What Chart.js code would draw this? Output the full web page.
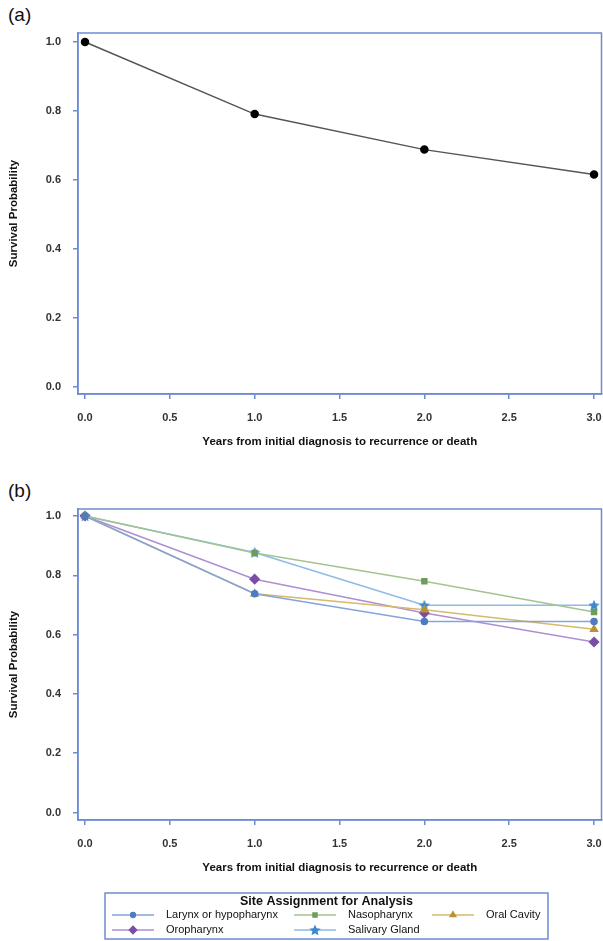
<!DOCTYPE html>
<html>
<head>
<meta charset="utf-8">
<script src="https://cdn.jsdelivr.net/npm/chart.js@4.4.1/dist/chart.umd.min.js"></script>
<style>
  html, body { margin: 0; padding: 0; background: #fff; }
  body { width: 603px; height: 941px; position: relative; overflow: hidden; font-family: 'Liberation Sans', Arial, sans-serif; }
  .panel-label { position: absolute; left: 8px; font-size: 19px; line-height: 22px; color: #111; }
  #wrapA { position: absolute; left: 0; top: 0; width: 603px; height: 470px; }
  #wrapB { position: absolute; left: 0; top: 470px; width: 603px; height: 471px; }
</style>
</head>
<body>
<div class="panel-label" style="top:4px">(a)</div>
<div class="panel-label" style="top:480px">(b)</div>
<div id="wrapA"><canvas id="chartA" width="603" height="470"></canvas></div>
<div id="wrapB"><canvas id="chartB" width="603" height="471"></canvas></div>
<script>
// data
const years = [0, 1, 2, 3];
const overallSurvival = [1.0, 0.791, 0.688, 0.616];

const larynxSurvival = [1.0, 0.738, 0.644, 0.644];
const nasopharynxSurvival = [1.0, 0.875, 0.780, 0.676];
const oralCavitySurvival = [1.0, 0.738, 0.684, 0.618];
const oropharynxSurvival = [1.0, 0.787, 0.673, 0.575];
const salivarySurvival = [1.0, 0.877, 0.699, 0.699];

const siteNames = ['Larynx or hypopharynx', 'Nasopharynx', 'Oral Cavity', 'Oropharynx', 'Salivary Gland'];
const legendTitle = 'Site Assignment for Analysis';
const xTitle = 'Years from initial diagnosis to recurrence or death';
const yTitle = 'Survival Probability';

// look
const frameColor = '#6d8bd3';
const tickColor = '#333';
const tickFont = { family: "'Liberation Sans', Arial, sans-serif", size: 11, weight: 'bold' };
const titleFont = { family: "'Liberation Sans', Arial, sans-serif", size: 11.5, weight: 'bold' };

function toPoints(values) {
  return years.map((yr, i) => ({ x: yr, y: values[i] }));
}

// filled five point star used as marker for salivary gland
function makeStar(color, size) {
  const c = document.createElement('canvas');
  c.width = size; c.height = size;
  const g = c.getContext('2d');
  const cx = size / 2, cy = size / 2 + 0.5, R = size / 2, r = R * 0.45;
  g.beginPath();
  for (let i = 0; i < 10; i++) {
    const rad = i % 2 === 0 ? R : r;
    const a = -Math.PI / 2 + i * Math.PI / 5;
    g.lineTo(cx + rad * Math.cos(a), cy + rad * Math.sin(a));
  }
  g.closePath();
  g.fillStyle = color;
  g.fill();
  return c;
}

// box round the plot area
const framePlugin = {
  id: 'frame',
  beforeDatasetsDraw(chart) {
    const a = chart.chartArea;
    const ctx = chart.ctx;
    ctx.save();
    ctx.strokeStyle = frameColor;
    ctx.lineWidth = 1.5;
    ctx.strokeRect(a.left, a.top, a.right - a.left, a.bottom - a.top);
    ctx.restore();
  }
};

function makeScales(yMin, yMax) {
  return {
    x: {
      type: 'linear',
      min: -0.0413,
      max: 3.044,
      // fixed height, and no extra room asked for the end labels
      afterFit: s => { s.height = 55; s.paddingLeft = 0; s.paddingRight = 0; },
      ticks: {
        stepSize: 0.5, includeBounds: false, padding: 12, maxRotation: 0,
        color: tickColor, font: tickFont,
        callback: v => v.toFixed(1)
      },
      grid: { drawOnChartArea: false, tickLength: 5, color: frameColor, lineWidth: 1.5 },
      border: { color: frameColor, width: 1.5 },
      title: { display: true, text: xTitle, color: '#111', font: titleFont, padding: 0 }
    },
    y: {
      min: yMin,
      max: yMax,
      afterFit: s => { s.width = 78; s.paddingTop = 0; s.paddingBottom = 0; },
      ticks: {
        stepSize: 0.2, includeBounds: false, padding: 12,
        color: tickColor, font: tickFont,
        callback: v => v.toFixed(1)
      },
      grid: { drawOnChartArea: false, tickLength: 5, color: frameColor, lineWidth: 1.5 },
      border: { color: frameColor, width: 1.5 },
      title: { display: true, text: yTitle, color: '#111', font: titleFont, padding: { top: 7, bottom: 0 } }
    }
  };
}

// (a) overall
new Chart(document.getElementById('chartA'), {
  type: 'line',
  data: {
    datasets: [{
      label: 'Overall',
      data: toPoints(overallSurvival),
      borderColor: '#555',
      borderWidth: 1.5,
      pointBackgroundColor: '#000',
      pointBorderColor: '#000',
      pointRadius: 3.5,
      tension: 0
    }]
  },
  options: {
    responsive: false,
    animation: false,
    layout: { autoPadding: false, padding: { top: 33, right: 1.5, bottom: 21, left: 0 } },
    plugins: { legend: { display: false }, tooltip: { enabled: false } },
    scales: makeScales(-0.0203, 1.026)
  },
  plugins: [framePlugin]
});

// legend for (b) drawn on the canvas, three columns
const legendCols = [112, 294, 432];
const legendRows = [445, 460];

const siteLegendPlugin = {
  id: 'siteLegend',
  afterDraw(chart) {
    const ctx = chart.ctx;
    ctx.save();
    ctx.strokeStyle = frameColor;
    ctx.lineWidth = 1.5;
    ctx.strokeRect(105, 423, 443, 46);

    ctx.fillStyle = '#111';
    ctx.textAlign = 'center';
    ctx.textBaseline = 'middle';
    ctx.font = "bold 12.5px 'Liberation Sans', Arial, sans-serif";
    ctx.fillText(legendTitle, 326.5, 431.5);

    ctx.textAlign = 'left';
    ctx.font = "11px 'Liberation Sans', Arial, sans-serif";
    chart.data.datasets.forEach((ds, i) => {
      const x0 = legendCols[i % 3];
      const y = legendRows[Math.floor(i / 3)];
      ctx.strokeStyle = ds.borderColor;
      ctx.lineWidth = 1.5;
      ctx.beginPath();
      ctx.moveTo(x0, y);
      ctx.lineTo(x0 + 42, y);
      ctx.stroke();
      ctx.fillStyle = ds.pointBackgroundColor;
      ctx.strokeStyle = ds.pointBorderColor;
      Chart.helpers.drawPoint(ctx, {
        pointStyle: ds.pointStyle, radius: ds.pointRadius * 0.8, rotation: 0, borderWidth: 1
      }, x0 + 21, y);
      ctx.fillStyle = '#111';
      ctx.fillText(ds.label, x0 + 54, y);
    });
    ctx.restore();
  }
};

const siteSeries = [
  { values: larynxSurvival, line: '#86a3dc', marker: '#4f7cc0', style: 'circle', r: 3 },
  { values: nasopharynxSurvival, line: '#a3c490', marker: '#6f9c58', style: 'rect', r: 3.5 },
  { values: oralCavitySurvival, line: '#d6b96a', marker: '#b99332', style: 'triangle', r: 4 },
  { values: oropharynxSurvival, line: '#ad90d2', marker: '#7b4ea6', style: 'rectRot', r: 4.5 },
  { values: salivarySurvival, line: '#8cbbe8', marker: '#3d86d1', style: makeStar('#3d86d1', 12), r: 6 }
];

new Chart(document.getElementById('chartB'), {
  type: 'line',
  data: {
    datasets: siteSeries.map((s, i) => ({
      label: siteNames[i],
      data: toPoints(s.values),
      borderColor: s.line,
      borderWidth: 1.5,
      pointStyle: s.style,
      pointBackgroundColor: s.marker,
      pointBorderColor: s.marker,
      pointRadius: s.r,
      tension: 0
    }))
  },
  options: {
    responsive: false,
    animation: false,
    layout: { autoPadding: false, padding: { top: 39, right: 1.5, bottom: 66, left: 0 } },
    plugins: { legend: { display: false }, tooltip: { enabled: false } },
    scales: makeScales(-0.0253, 1.0236)
  },
  plugins: [framePlugin, siteLegendPlugin]
});
</script>
</body>
</html>
